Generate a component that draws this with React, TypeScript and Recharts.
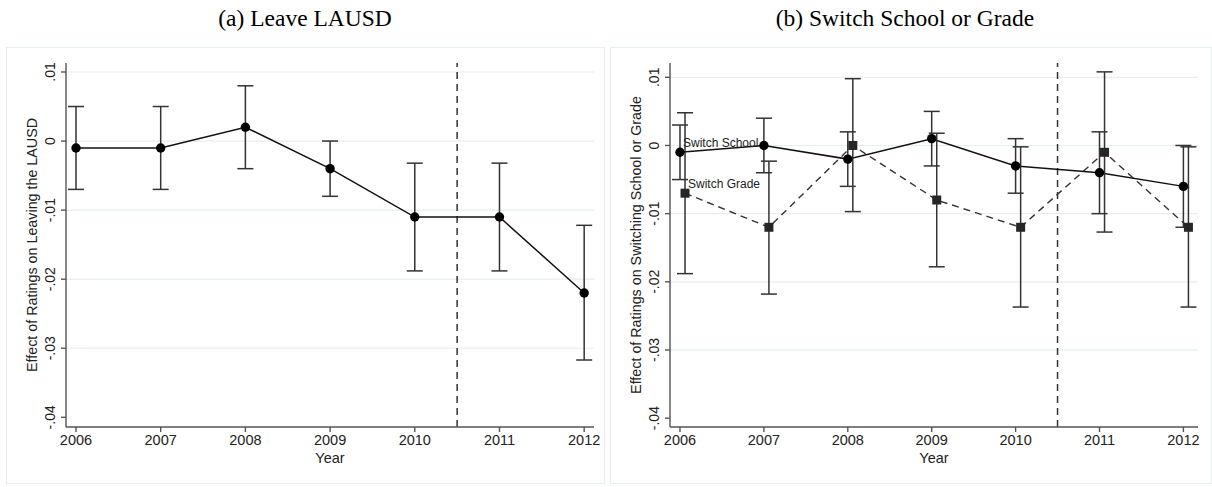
import React from 'react';
import { ComposedChart, Line, XAxis, YAxis, ErrorBar, ReferenceLine } from 'recharts';

// values
const years = [2006, 2007, 2008, 2009, 2010, 2011, 2012];

const leaveCoef = [-0.001, -0.001, 0.002, -0.004, -0.011, -0.011, -0.022];
const leaveLo = [-0.007, -0.007, -0.004, -0.008, -0.0188, -0.0188, -0.0317];
const leaveHi = [0.005, 0.005, 0.008, 0.0, -0.0032, -0.0032, -0.0122];

const schoolCoef = [-0.001, 0.0, -0.002, 0.001, -0.003, -0.004, -0.006];
const schoolLo = [-0.005, -0.004, -0.006, -0.003, -0.007, -0.01, -0.012];
const schoolHi = [0.003, 0.004, 0.002, 0.005, 0.001, 0.002, 0.0];

const gradeCoef = [-0.007, -0.012, 0.0, -0.008, -0.012, -0.001, -0.012];
const gradeLo = [-0.0188, -0.0218, -0.0097, -0.0178, -0.0237, -0.0127, -0.0237];
const gradeHi = [0.0048, -0.0023, 0.0098, 0.0018, -0.0002, 0.0108, -0.0002];

const yTicks = [0.01, 0, -0.01, -0.02, -0.03, -0.04];
const gridValues = [0.01, 0, -0.01, -0.02, -0.03];
const policyYear = 2010.5;
const GRADE_DODGE = 0.06;

const SANS = '"Liberation Sans", Arial, sans-serif';
const SERIF = '"Liberation Serif", "Times New Roman", serif';
const INK = '#222';
const AXIS = '#555';
const GRID = '#e6eeee';

const buildRows = (coef: number[], lo: number[], hi: number[], dodge = 0) =>
  years.map((yr, i) => ({
    year: yr + dodge,
    value: coef[i],
    err: [coef[i] - lo[i], hi[i] - coef[i]],
  }));

const leaveRows = buildRows(leaveCoef, leaveLo, leaveHi);
const schoolRows = buildRows(schoolCoef, schoolLo, schoolHi);
const gradeRows = buildRows(gradeCoef, gradeLo, gradeHi, GRADE_DODGE);

const fmt = (v: number) => {
  if (Math.abs(v) < 1e-9) return '0';
  return (v < 0 ? '-' : '') + Math.abs(v).toFixed(2).replace(/^0/, '');
};

const YTick = (props: any) => {
  const { x, y, payload } = props;
  return (
    <text
      x={x}
      y={y}
      transform={`rotate(-90, ${x}, ${y})`}
      textAnchor="middle"
      fontSize={14}
      fill={INK}
      fontFamily={SANS}
    >
      {fmt(payload.value)}
    </text>
  );
};

const SquareDot = (props: any) => {
  const { cx, cy, index } = props;
  if (cx == null || cy == null) return null;
  return <rect key={`sq-${index}`} x={cx - 4.5} y={cy - 4.5} width={9} height={9} fill="#262626" />;
};

const firstPointLabel = (text: string, dy: number) => (props: any) => {
  const { x, y, index } = props;
  if (index !== 0) return null;
  return (
    <text key={`lbl-${text}`} x={x + 3} y={y + dy} fontSize={12} fill={INK} fontFamily={SANS}>
      {text}
    </text>
  );
};

interface PanelProps {
  left: number;
  width: number;
  rightMargin: number;
  xDomain: [number, number];
  yDomain: [number, number];
  yLabel: string;
  children: React.ReactNode;
}

const Panel: React.FC<PanelProps> = ({ left, width, rightMargin, xDomain, yDomain, yLabel, children }) => (
  <div style={{ position: 'absolute', left, top: 0 }}>
    <ComposedChart
      width={width}
      height={487}
      margin={{ top: 63, right: rightMargin, bottom: 24, left: 0 }}
    >
      {gridValues.map((g) => (
        <ReferenceLine key={`g${g}`} y={g} stroke={GRID} strokeWidth={1.2} />
      ))}
      <XAxis
        type="number"
        dataKey="year"
        domain={xDomain}
        allowDataOverflow
        ticks={years}
        interval={0}
        height={36}
        tickSize={5}
        tickMargin={3}
        stroke={AXIS}
        strokeWidth={1.4}
        tick={{ fill: INK, fontSize: 14.5, fontFamily: SANS }}
        label={{ value: 'Year', position: 'insideBottom', offset: 0, fill: INK, fontSize: 14.5, fontFamily: SANS }}
      />
      <YAxis
        type="number"
        domain={yDomain}
        allowDataOverflow
        ticks={yTicks}
        interval={0}
        width={66}
        tickSize={5}
        tickMargin={6}
        stroke={AXIS}
        strokeWidth={1.4}
        tick={<YTick />}
        label={{ value: yLabel, angle: -90, position: 'center', dx: -1, fill: INK, fontSize: 14.3, fontFamily: SANS }}
      />
      <ReferenceLine x={policyYear} stroke="#333" strokeWidth={1.5} strokeDasharray="7 5" />
      {children}
    </ComposedChart>
  </div>
);

const frameStyle: React.CSSProperties = {
  position: 'absolute',
  top: 47,
  height: 437,
  border: '1px solid #e6eef0',
  boxSizing: 'border-box',
};

const titleStyle: React.CSSProperties = {
  position: 'absolute',
  top: 5,
  height: 26,
  lineHeight: '26px',
  textAlign: 'center',
  fontFamily: SERIF,
  fontSize: 23.5,
  color: '#000',
};

export default function App() {
  return (
    <div style={{ position: 'absolute', left: 0, top: 0, width: 1212, height: 487, background: '#fff' }}>
      <div style={{ ...frameStyle, left: 6, width: 599 }} />
      <div style={{ ...frameStyle, left: 610, width: 602 }} />
      <div style={{ ...titleStyle, left: 0, width: 610 }}>(a) Leave LAUSD</div>
      <div style={{ ...titleStyle, left: 605, width: 600 }}>(b) Switch School or Grade</div>

      <Panel
        left={0}
        width={606}
        rightMargin={12}
        xDomain={[2005.882, 2012.116]}
        yDomain={[-0.0414, 0.0113]}
        yLabel="Effect of Ratings on Leaving the LAUSD"
      >
        <Line
          data={leaveRows}
          dataKey="value"
          stroke="#111"
          strokeWidth={1.5}
          dot={{ r: 4.7, fill: '#000', stroke: '#000', strokeWidth: 0 }}
          activeDot={false}
          isAnimationActive={false}
        >
          <ErrorBar dataKey="err" direction="y" width={8} stroke="#333" strokeWidth={1.5} />
        </Line>
      </Panel>

      <Panel
        left={604}
        width={608}
        rightMargin={14}
        xDomain={[2005.881, 2012.174]}
        yDomain={[-0.0413, 0.0121]}
        yLabel="Effect of Ratings on Switching School or Grade"
      >
        <Line
          data={schoolRows}
          dataKey="value"
          stroke="#111"
          strokeWidth={1.5}
          dot={{ r: 4.7, fill: '#000', stroke: '#000', strokeWidth: 0 }}
          activeDot={false}
          label={firstPointLabel('Switch School', -5)}
          isAnimationActive={false}
        >
          <ErrorBar dataKey="err" direction="y" width={8} stroke="#333" strokeWidth={1.5} />
        </Line>
        <Line
          data={gradeRows}
          dataKey="value"
          stroke="#333"
          strokeWidth={1.4}
          strokeDasharray="7 5"
          dot={<SquareDot />}
          activeDot={false}
          label={firstPointLabel('Switch Grade', -5.5)}
          isAnimationActive={false}
        >
          <ErrorBar dataKey="err" direction="y" width={8} stroke="#333" strokeWidth={1.5} />
        </Line>
      </Panel>
    </div>
  );
}
